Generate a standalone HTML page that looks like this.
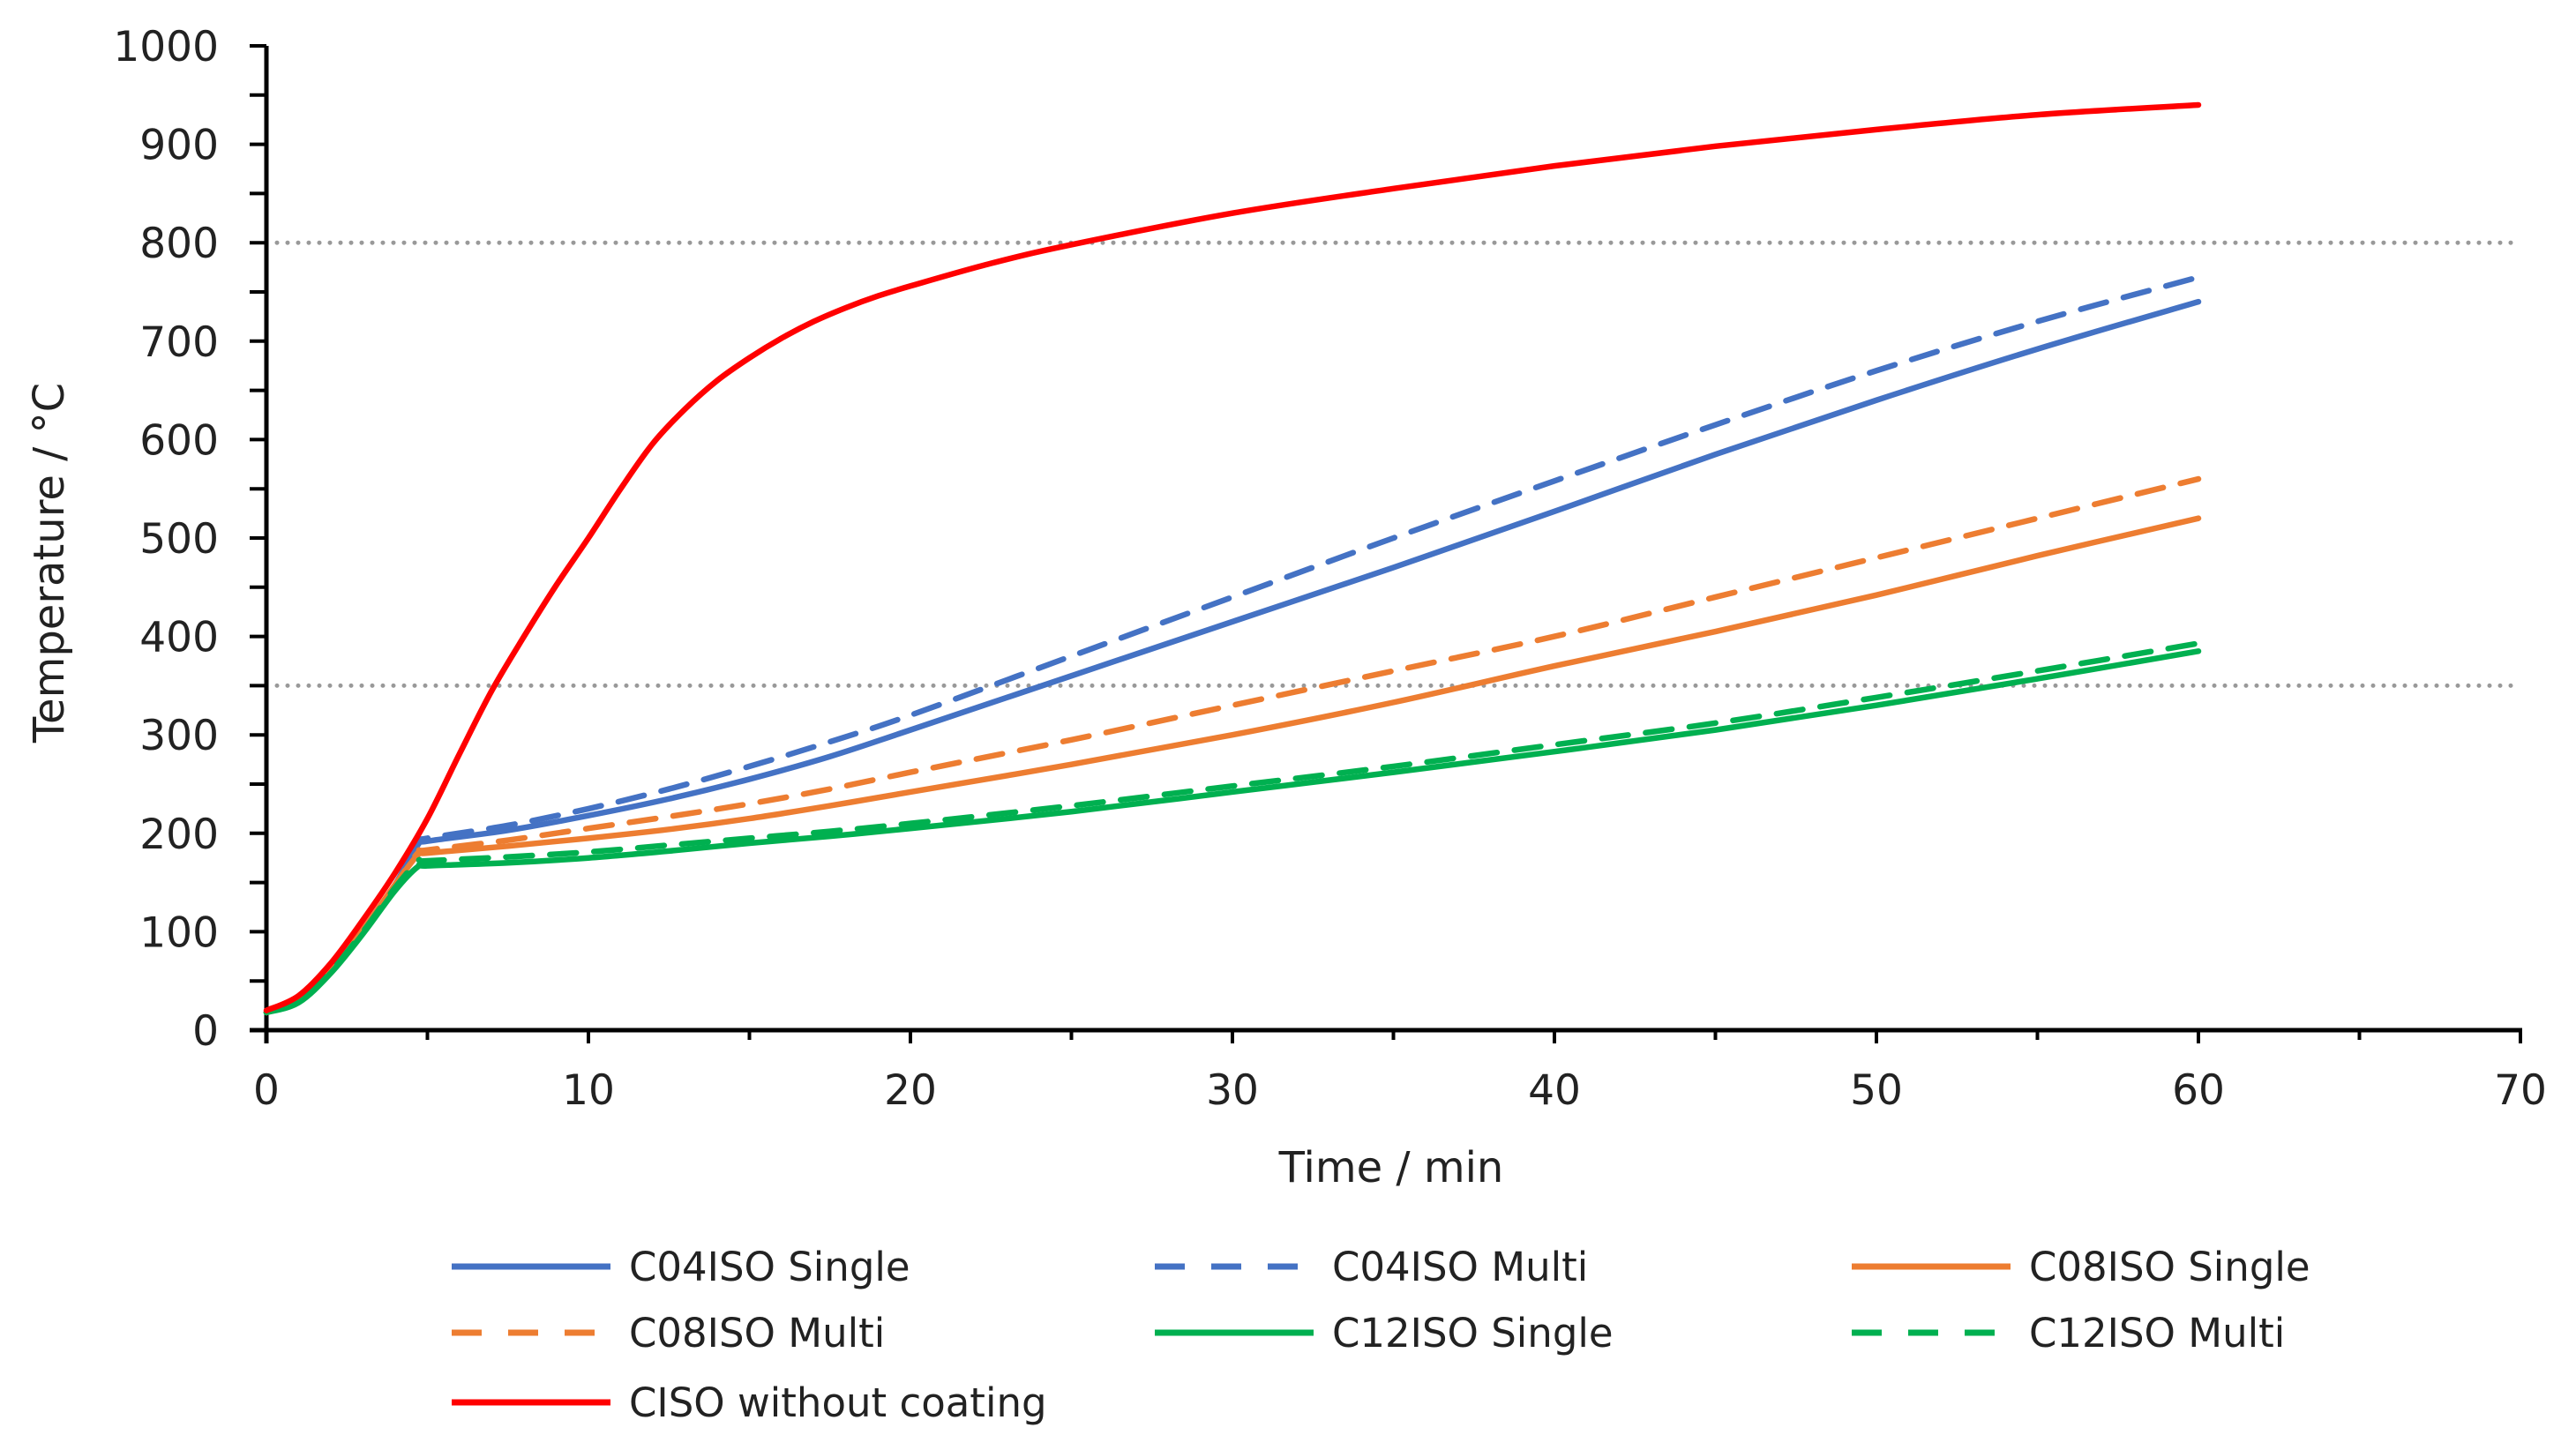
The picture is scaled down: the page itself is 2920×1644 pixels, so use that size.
<!DOCTYPE html>
<html><head><meta charset="utf-8"><style>
html,body{margin:0;padding:0;background:#fff;}
svg{display:block;font-family:"DejaVu Sans","Liberation Sans",sans-serif;}
</style></head><body>
<svg id="chart" width="2920" height="1644" viewBox="0 0 2920 1644">
<g id="grid"></g><g id="axes"></g><g id="series"></g><g id="legend"></g>
</svg>
<script>
const times = [0,1,2,3,4,4.7,5,7.5,10,12.5,15,17.5,20,25,30,35,40,45,50,55,60];
const isoTimes = [0,1,2,3,4,5,6,7,8,9,10,11,12,13,14,15,16,17,18,19,20,22.5,25,30,35,40,45,50,55,60];
const isoValues = [20,35,68,112,160,215,281,345,400,452,500,550,596,631,660,683,703,720,734,746,756,779,798,830,855,878,898,915,930,940];
const c04Single = [18,30,62,102,148,188,192,203,218,235,255,278,305,360,415,470,527,585,640,692,740];
const c04Multi = [18,30,62,102,148,190,195,208,225,245,268,293,320,380,440,500,558,615,670,720,765];
const c08Single = [18,30,62,102,148,178,180,187,195,204,215,228,242,270,300,333,370,405,442,482,520];
const c08Multi = [18,30,62,102,148,180,183,193,205,217,230,245,262,295,330,365,400,440,480,520,560];
const c12Single = [18,28,58,98,142,166,167,170,175,182,190,197,205,222,242,262,283,305,330,357,385];
const c12Multi = [18,29,60,100,145,171,172,176,181,188,195,202,210,228,248,268,290,312,338,365,393];
const yTicks = [0,100,200,300,400,500,600,700,800,900,1000];
const xTicks = [0,10,20,30,40,50,60,70];
const refLines = [800,350];
const seriesNames = ["C04ISO Single","C04ISO Multi","C08ISO Single","C08ISO Multi","C12ISO Single","C12ISO Multi","CISO without coating"];

const X0=302,X1=2857,Y0=1168,Y1=52;
const sx=v=>X0+(X1-X0)*v/70, sy=v=>Y0-(Y0-Y1)*v/1000;
const NS="http://www.w3.org/2000/svg";
function mk(t,a,p){const e=document.createElementNS(NS,t);for(const k in a)e.setAttribute(k,a[k]);p.appendChild(e);return e;}
const grid=document.getElementById('grid'),axes=document.getElementById('axes'),ser=document.getElementById('series'),leg=document.getElementById('legend');

refLines.forEach(v=>{
 const l=mk('line',{x1:X0,x2:X1,y1:sy(v),y2:sy(v),stroke:'#999','stroke-width':5,'stroke-dasharray':'0 12','stroke-linecap':'round'},grid);
 
 
});
let a=mk('line',{x1:X0,x2:X0,y1:Y1,y2:Y0+15,stroke:'#000','stroke-width':5},axes);

a=mk('line',{x1:X0-19,x2:X1+2,y1:Y0,y2:Y0,stroke:'#000','stroke-width':5},axes);

for(let v=0;v<=1000;v+=50){mk('line',{x1:X0-19,x2:X0,y1:sy(v),y2:sy(v),stroke:'#000','stroke-width':4},axes);}
for(let v=5;v<=70;v+=5){mk('line',{x1:sx(v),x2:sx(v),y1:Y0,y2:Y0+(v%10==0?15:11),stroke:'#000','stroke-width':4},axes);}
yTicks.forEach(v=>{const t=mk('text',{x:248,y:sy(v)+17,'text-anchor':'end','font-size':47,fill:'#222'},axes);t.textContent=v;
 });
xTicks.forEach(v=>{const t=mk('text',{x:sx(v),y:1252,'text-anchor':'middle','font-size':47,fill:'#222'},axes);t.textContent=v;
 });
let t=mk('text',{x:1577,y:1340,'text-anchor':'middle','font-size':48,fill:'#222'},axes);t.textContent='Time / min';

t=mk('text',{x:0,y:0,'text-anchor':'middle','font-size':48,fill:'#222',transform:'translate(72,638) rotate(-90)'},axes);t.textContent='Temperature / °C';


function path(xs,ys){
 const p=xs.map((x,i)=>[sx(x),sy(ys[i])]);
 let d='M'+p[0][0]+','+p[0][1];
 for(let i=0;i<p.length-1;i++){
  const p0=p[Math.max(0,i-1)],p1=p[i],p2=p[i+1],p3=p[Math.min(p.length-1,i+2)];
  const c1=[p1[0]+(p2[0]-p0[0])/6,p1[1]+(p2[1]-p0[1])/6],c2=[p2[0]-(p3[0]-p1[0])/6,p2[1]-(p3[1]-p1[1])/6];
  d+=' C'+c1.join(',')+' '+c2.join(',')+' '+p2.join(',');
 }
 return d;
}
const cols=['#4472C4','#4472C4','#ED7D31','#ED7D31','#00B050','#00B050','#FF0000'];
const dashed=[false,true,false,true,false,true,false];
const data=[c04Single,c04Multi,c08Single,c08Multi,c12Single,c12Multi,isoValues];
const names=['c04-single','c04-multi','c08-single','c08-multi','c12-single','c12-multi','ciso-without-coating'];
data.forEach((ys,i)=>{
 const xs=i==6?isoTimes:times;
 const e=mk('path',{d:path(xs,ys),fill:'none',stroke:cols[i],'stroke-width':6.5,'stroke-linecap':'round'},ser);
 if(dashed[i])e.setAttribute('stroke-dasharray','30 20');
 
 
});
const legPos=[[512,1436],[1309,1436],[2099,1436],[512,1511],[1309,1511],[2099,1511],[512,1590]];
legPos.forEach((p,i)=>{
 const g=mk('g',{},leg);
 
 
 const l=mk('line',{x1:p[0],x2:p[0]+180,y1:p[1],y2:p[1],stroke:cols[i],'stroke-width':7},g);
 if(dashed[i])l.setAttribute('stroke-dasharray','34 30');
 const tx=mk('text',{x:p[0]+201,y:p[1]+16,'font-size':45,fill:'#222'},g);tx.textContent=seriesNames[i];
});
</script>
</body></html>
